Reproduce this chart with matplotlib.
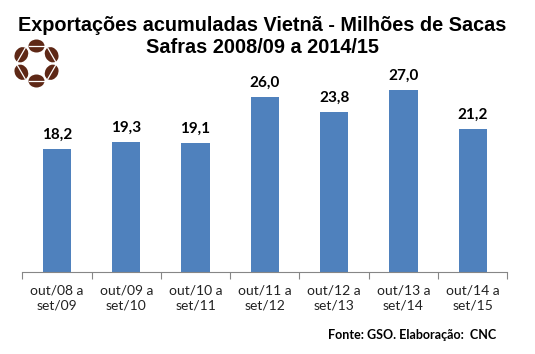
import matplotlib
matplotlib.use("Agg")
import matplotlib.pyplot as plt
from matplotlib.patches import Ellipse
import numpy as np

categories = ["out/08 a\nset/09", "out/09 a\nset/10", "out/10 a\nset/11", "out/11 a\nset/12",
              "out/12 a\nset/13", "out/13 a\nset/14", "out/14 a\nset/15"]
values = [18.2, 19.3, 19.1, 26.0, 23.8, 27.0, 21.2]
value_labels = ["18,2", "19,3", "19,1", "26,0", "23,8", "27,0", "21,2"]

W, H = 535, 354
fig = plt.figure(figsize=(W / 100, H / 100), dpi=100)
ax = fig.add_axes([22.3 / W, 1 - 271.7 / H, (507.4 - 22.3) / W, (271.7 - 70) / H])

x = np.arange(len(values))
ax.bar(x, values, width=0.41, color="#4F81BD")
for xi, v, lab in zip(x, values, value_labels):
    ax.text(xi, v + 1.5, lab, ha="center", va="baseline", fontsize=11, fontweight="bold",
            family="Lato")

ax.set_xlim(-0.5, len(values) - 0.5)
ax.set_ylim(0, 30)
ax.set_yticks([])
for s in ["top", "right", "left"]:
    ax.spines[s].set_visible(False)
ax.spines["bottom"].set_color("#868686")
ax.set_xticks(np.arange(-0.5, len(values), 1.0))
ax.set_xticklabels([])
ax.set_xticks(x, minor=True)
ax.set_xticklabels(categories, minor=True, fontsize=10, family="Lato", color="#222222",
                   linespacing=1.35)
ax.tick_params(axis="x", which="major", length=5, color="#868686", direction="out")
ax.tick_params(axis="x", which="minor", length=0, pad=9)

fig.text(262 / W, 1 - 31 / H, "Exportações acumuladas Vietnã - Milhões de Sacas",
         ha="center", va="baseline", fontsize=14.3, fontweight="bold", family="Liberation Sans")
fig.text(262 / W, 1 - 53 / H, "Safras 2008/09 a 2014/15",
         ha="center", va="baseline", fontsize=14.3, fontweight="bold", family="Liberation Sans")
fig.text(496 / W, 1 - 335 / H, "Fonte: GSO. Elaboração:  CNC", ha="right", va="center",
         fontsize=9, fontweight="bold", family="Lato")

# logo: ring of six coffee beans
cxp, cyp, size = 36.5, 63.5, 56.0
logo = fig.add_axes([(cxp - size / 2) / W, 1 - (cyp + size / 2) / H, size / W, size / H])
logo.set_xlim(-28, 28)
logo.set_ylim(-28, 28)
logo.set_aspect("equal")
logo.axis("off")
brown = "#5E2816"
for k in range(6):
    ang = np.deg2rad(90 - 60 * k)
    cx, cy = 17.5 * np.cos(ang), 17.5 * np.sin(ang)
    rot = np.rad2deg(ang) - 90
    logo.add_patch(Ellipse((cx, cy), 16, 13, angle=rot, color=brown, lw=0))
    d = 7.5
    c, s = np.cos(np.deg2rad(rot)), np.sin(np.deg2rad(rot))
    logo.plot([cx - d * c, cx + d * c], [cy - d * s, cy + d * s], color="white", lw=0.9)

fig.savefig("out.png", dpi=100)
